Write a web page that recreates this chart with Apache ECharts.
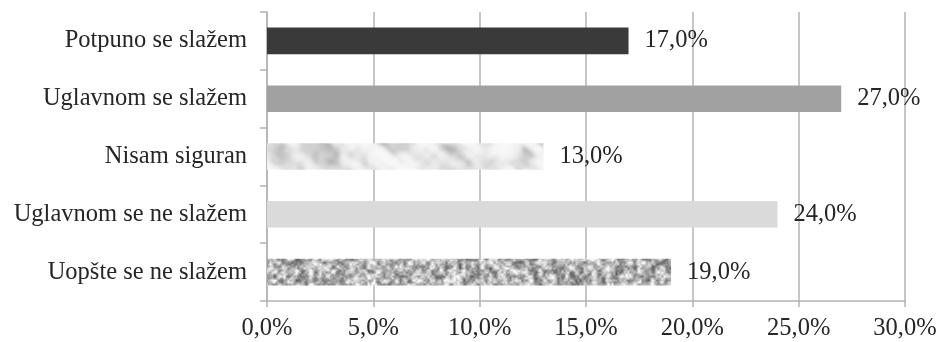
<!DOCTYPE html>
<html>
<head>
<meta charset="utf-8">
<script src="https://cdn.jsdelivr.net/npm/echarts@6/dist/echarts.min.js"></script>
<style>
html,body{margin:0;padding:0;background:#fff;}
#chart{width:940px;height:342px;}
</style>
</head>
<body>
<div id="chart"></div>
<script>
const categories = ['Potpuno se slažem', 'Uglavnom se slažem', 'Nisam siguran', 'Uglavnom se ne slažem', 'Uopšte se ne slažem'];
const values = [17.0, 27.0, 13.0, 24.0, 19.0];
const xTicks = [0, 5, 10, 15, 20, 25, 30];

// deterministic hash for texture fills (style only, not data)
function hash(x, y, s) {
  const v = Math.sin(x * 12.9898 + y * 78.233 + s * 37.719) * 43758.5453;
  return v - Math.floor(v);
}
function valueNoise(x, y, cell, s) {
  const gx = Math.floor(x / cell), gy = Math.floor(y / cell);
  const fx = x / cell - gx, fy = y / cell - gy;
  const sx = fx * fx * (3 - 2 * fx), sy = fy * fy * (3 - 2 * fy);
  const a = hash(gx, gy, s), b = hash(gx + 1, gy, s), c = hash(gx, gy + 1, s), d = hash(gx + 1, gy + 1, s);
  return a + (b - a) * sx + (c - a) * sy + (a - b - c + d) * sx * sy;
}
function makeSpeckle() {
  const w = 720, h = 60;
  const c = document.createElement('canvas'); c.width = w; c.height = h;
  const ctx = c.getContext('2d');
  const img = ctx.createImageData(w, h);
  for (let y = 0; y < h; y++) for (let x = 0; x < w; x++) {
    const n = 0.65 * valueNoise(x, y, 4.5, 1) + 0.35 * valueNoise(x, y, 2, 2);
    let g = 80 + n * 200;
    g = Math.max(85, Math.min(245, g));
    const i = (y * w + x) * 4;
    img.data[i] = img.data[i + 1] = img.data[i + 2] = g; img.data[i + 3] = 255;
  }
  ctx.putImageData(img, 0, 0);
  return c;
}
function makeMarble() {
  const w = 720, h = 60;
  const c = document.createElement('canvas'); c.width = w; c.height = h;
  const ctx = c.getContext('2d');
  const img = ctx.createImageData(w, h);
  for (let y = 0; y < h; y++) for (let x = 0; x < w; x++) {
    const u = x * 0.8 + y * 0.6, v = x * 0.6 - y * 0.8;
    const n = valueNoise(u, v * 2.5, 22, 3) * 0.75 + valueNoise(x, y, 7, 4) * 0.25;
    let g = 248 - Math.pow(n, 2.6) * 85;
    const i = (y * w + x) * 4;
    img.data[i] = img.data[i + 1] = img.data[i + 2] = g; img.data[i + 3] = 255;
  }
  ctx.putImageData(img, 0, 0);
  return c;
}

const barFills = [
  '#3a3a3a',
  '#a1a1a1',
  { image: makeMarble(), repeat: 'repeat' },
  '#dadada',
  { image: makeSpeckle(), repeat: 'repeat' }
];

const FONT = '"Liberation Serif", "Times New Roman", serif';
const chart = echarts.init(document.getElementById('chart'), null, { renderer: 'canvas' });
const fmt = v => v.toFixed(1).replace('.', ',') + '%';

chart.setOption({
  animation: false,
  backgroundColor: '#ffffff',
  grid: { left: 267, right: 35, top: 12, bottom: 41, containLabel: false },
  xAxis: {
    type: 'value',
    min: xTicks[0],
    max: xTicks[xTicks.length - 1],
    interval: 5,
    axisLine: { show: true, lineStyle: { color: '#b3b3b3', width: 1.5 } },
    axisTick: { show: true, length: 6, lineStyle: { color: '#b3b3b3', width: 1.5 } },
    splitLine: { show: true, lineStyle: { color: '#b3b3b3', width: 1.5 } },
    axisLabel: { formatter: fmt, fontFamily: FONT, fontSize: 24.5, color: '#262626', margin: 15 }
  },
  yAxis: {
    type: 'category',
    data: categories,
    inverse: true,
    axisLine: { show: true, lineStyle: { color: '#b3b3b3', width: 1.5 } },
    axisTick: { show: true, length: 7, inside: false, lineStyle: { color: '#b3b3b3', width: 1.5 } },
    splitLine: { show: false },
    axisLabel: { fontFamily: FONT, fontSize: 24.5, color: '#262626', margin: 20 }
  },
  series: [{
    type: 'bar',
    barWidth: '46%',
    data: values.map((v, i) => ({ value: v, itemStyle: { color: barFills[i] } })),
    label: {
      show: true,
      position: 'right',
      distance: 16,
      formatter: p => fmt(p.value),
      fontFamily: FONT,
      fontSize: 24.5,
      color: '#262626'
    }
  }]
});
</script>
</body>
</html>
